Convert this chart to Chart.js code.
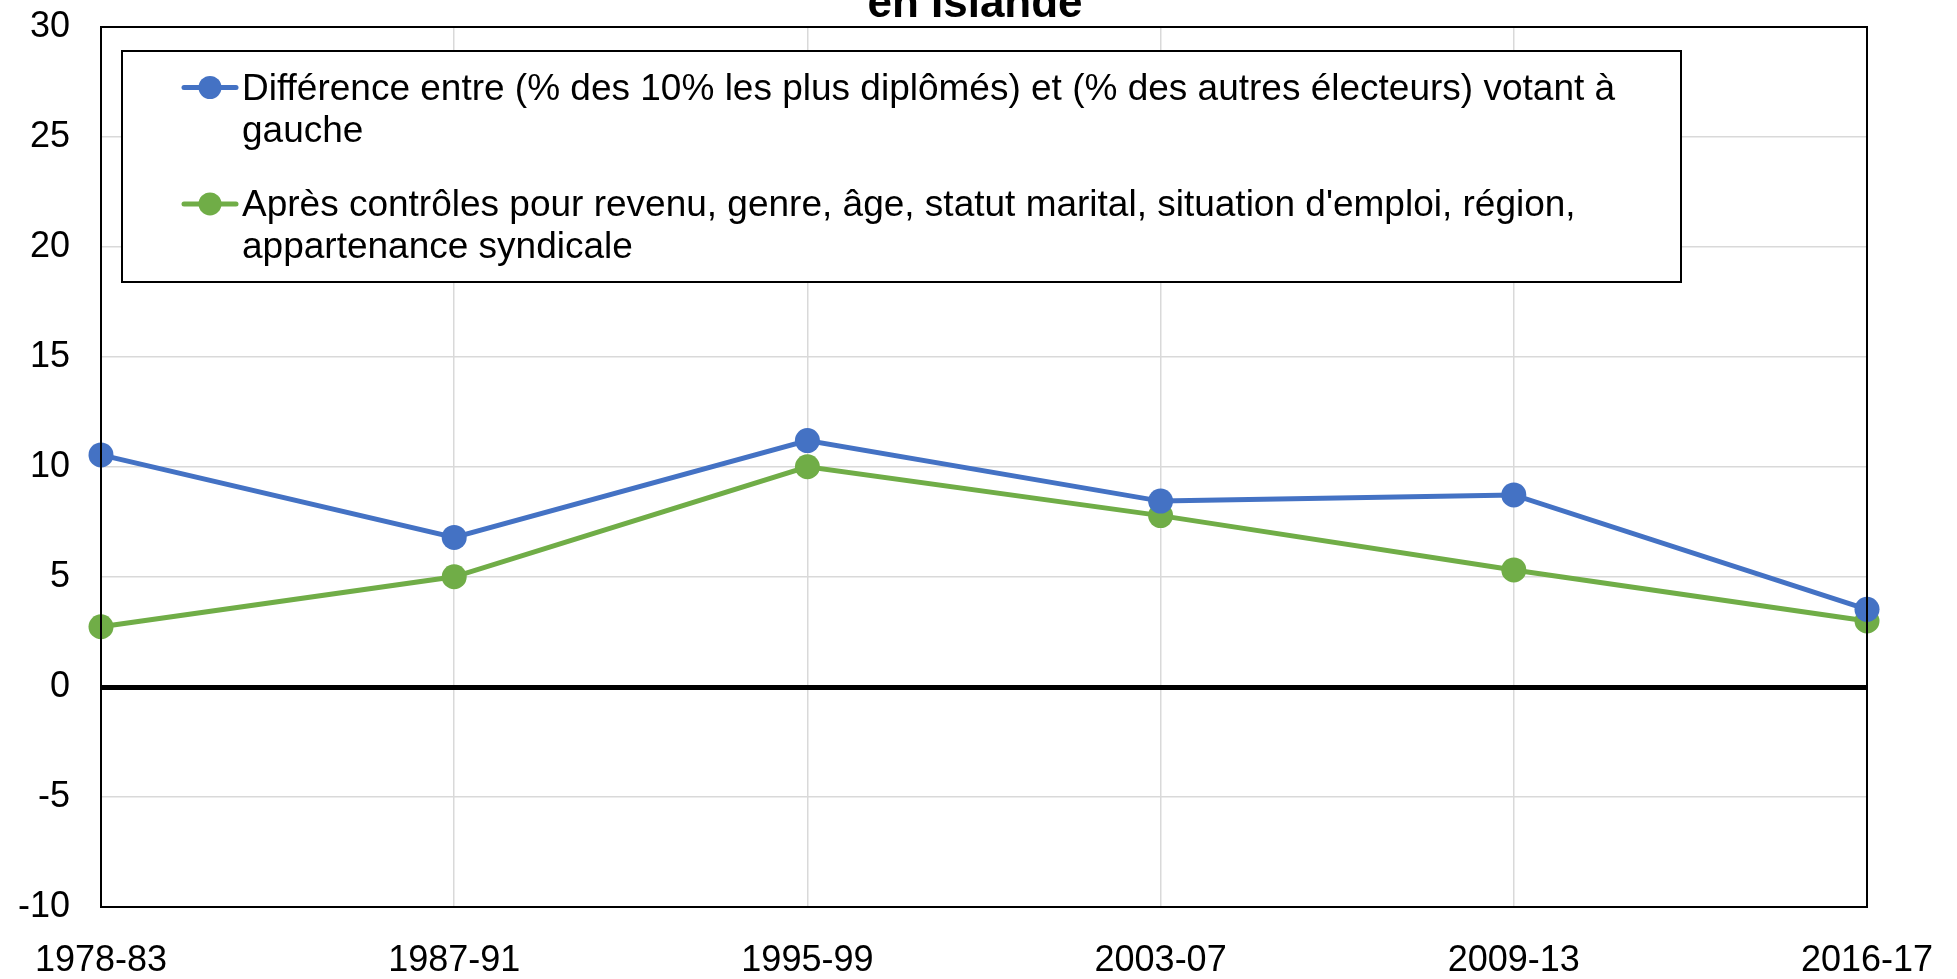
<!DOCTYPE html>
<html>
<head>
<meta charset="utf-8">
<script src="https://cdn.jsdelivr.net/npm/chart.js@4"></script>
<style>
html,body{margin:0;padding:0;background:#fff;}
#wrap{width:1957px;height:979px;position:relative;}
</style>
</head>
<body>
<div id="wrap"><canvas id="c" width="1957" height="979"></canvas></div>
<script>
const titleText = 'en Islande';
const periods = ['1978-83','1987-91','1995-99','2003-07','2009-13','2016-17'];
const diffRaw = [10.55, 6.8, 11.2, 8.45, 8.73, 3.53];
const diffControls = [2.74, 5.01, 10.01, 7.79, 5.32, 3.0];
const seriesLabels = [
  "Différence entre (% des 10% les plus diplômés) et (% des autres électeurs) votant à gauche",
  "Après contrôles pour revenu, genre, âge, statut marital, situation d'emploi, région, appartenance syndicale"
];
const yMin = -10, yMax = 30, yStep = 5;

const FONT = "'Liberation Sans', Arial, sans-serif";
const BLUE = '#4472C4';
const GREEN = '#70AD47';

const titlePlugin = {
  id: 'titleCut',
  afterDraw(chart) {
    const ctx = chart.ctx;
    ctx.save();
    ctx.font = 'bold 44px ' + FONT;
    ctx.fillStyle = '#000';
    ctx.textAlign = 'center';
    ctx.textBaseline = 'alphabetic';
    ctx.fillText(titleText, 975, 17);
    ctx.restore();
  }
};

const frameLegendPlugin = {
  id: 'frameLegend',
  afterDatasetsDraw(chart) {
    const ctx = chart.ctx;
    const a = chart.chartArea;
    ctx.save();
    ctx.strokeStyle = '#000';
    ctx.lineWidth = 2;
    ctx.strokeRect(a.left, a.top, a.right - a.left, a.bottom - a.top);
    // legend box
    const bx = 122, by = 51, bw = 1559, bh = 231;
    ctx.fillStyle = '#fff';
    ctx.fillRect(bx, by, bw, bh);
    ctx.lineWidth = 2;
    ctx.strokeRect(bx, by, bw, bh);
    ctx.font = '37px ' + FONT;
    ctx.textAlign = 'left';
    ctx.textBaseline = 'alphabetic';
    const textX = 242, maxW = 1420, lineH = 42.4;
    let baseY = 99.5;
    chart.data.datasets.forEach((ds, i) => {
      const words = ds.label.split(' ');
      const lines = [];
      let cur = '';
      words.forEach(w => {
        const t = cur ? cur + ' ' + w : w;
        if (ctx.measureText(t).width > maxW && cur) { lines.push(cur); cur = w; }
        else cur = t;
      });
      if (cur) lines.push(cur);
      const my = baseY - 12;
      ctx.strokeStyle = ds.borderColor;
      ctx.lineWidth = 5;
      ctx.lineCap = 'round';
      ctx.beginPath(); ctx.moveTo(184, my); ctx.lineTo(236, my); ctx.stroke();
      ctx.fillStyle = ds.borderColor;
      ctx.beginPath(); ctx.arc(210, my, 11.5, 0, Math.PI * 2); ctx.fill();
      ctx.fillStyle = '#000';
      lines.forEach((l, k) => ctx.fillText(l, textX, baseY + k * lineH));
      baseY += (lines.length - 1) * lineH + 74;
    });
    ctx.restore();
  }
};

new Chart(document.getElementById('c'), {
  type: 'line',
  data: {
    labels: periods,
    datasets: [
      {
        label: seriesLabels[0],
        data: diffRaw,
        borderColor: BLUE,
        backgroundColor: BLUE,
        borderWidth: 5,
        pointRadius: 12.5,
        pointHoverRadius: 12.5,
        pointBackgroundColor: BLUE,
        pointBorderWidth: 0,
        tension: 0,
        clip: false
      },
      {
        label: seriesLabels[1],
        data: diffControls,
        borderColor: GREEN,
        backgroundColor: GREEN,
        borderWidth: 5,
        pointRadius: 12.5,
        pointHoverRadius: 12.5,
        pointBackgroundColor: GREEN,
        pointBorderWidth: 0,
        tension: 0,
        clip: false
      }
    ]
  },
  options: {
    responsive: false,
    animation: false,
    devicePixelRatio: 1,
    layout: { padding: { top: 27, right: 90, bottom: 0, left: 0 } },
    plugins: {
      legend: { display: false },
      title: { display: false },
      tooltip: { enabled: false }
    },
    scales: {
      x: {
        type: 'category',
        offset: false,
        grid: { color: '#d9d9d9', lineWidth: 1.5, drawTicks: false },
        border: { display: true, color: '#000', width: 2 },
        ticks: {
          color: '#000',
          font: { family: FONT, size: 36 },
          padding: 32,
          maxRotation: 0,
          autoSkip: false
        },
        afterFit(scale) {
          scale.height = 72;
          scale.paddingLeft = 0; scale.paddingRight = 0;
        }
      },
      y: {
        min: yMin,
        max: yMax,
        grid: {
          drawTicks: false,
          color: ctx => (ctx.tick && ctx.tick.value === 0) ? '#000' : '#d9d9d9',
          lineWidth: ctx => (ctx.tick && ctx.tick.value === 0) ? 5 : 1.5
        },
        border: { display: true, color: '#000', width: 2 },
        ticks: {
          stepSize: yStep,
          color: '#000',
          font: { family: FONT, size: 36 },
          padding: 31
        },
        afterFit(scale) {
          scale.width = 101;
          scale.paddingTop = 0; scale.paddingBottom = 0;
        }
      }
    }
  },
  plugins: [frameLegendPlugin, titlePlugin]
});
</script>
</body>
</html>
